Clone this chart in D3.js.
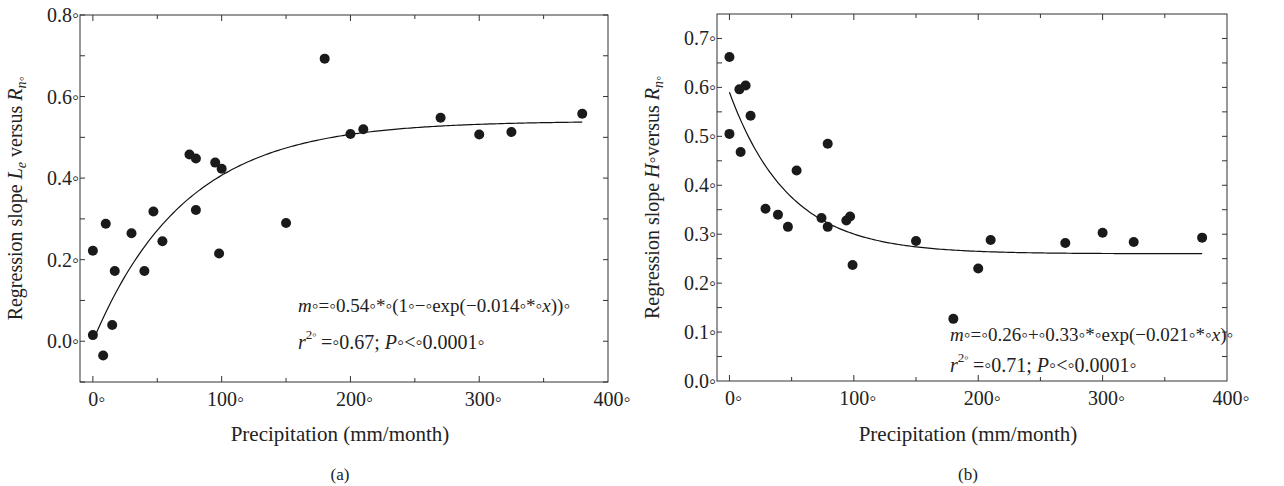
<!DOCTYPE html><html><head><meta charset="utf-8">
<script src="https://cdn.jsdelivr.net/npm/d3@7"></script>
<style>body{margin:0;background:#fff}text{font-family:"Liberation Serif",serif;fill:#222}</style></head><body>
<svg id="c" width="1284" height="486"></svg>
<script>
const aX=[0,0,8,10,15,17,30,40,47,54,75,80,80,95,98,100,150,180,200,210,270,300,325,380];
const aY=[0.015,0.222,-0.035,0.288,0.04,0.172,0.265,0.172,0.318,0.245,0.458,0.448,0.322,0.438,0.215,0.423,0.29,0.693,0.508,0.52,0.548,0.507,0.513,0.558];
const bX=[0,0,8,9,13,17,29,39,47,54,74,79,79,94,97,99,150,180,200,210,270,300,325,380];
const bY=[0.662,0.505,0.596,0.468,0.604,0.542,0.352,0.34,0.315,0.43,0.333,0.485,0.315,0.328,0.336,0.237,0.286,0.127,0.23,0.288,0.282,0.303,0.284,0.293];
const aFit=[0.54,0.014], bFit=[0.26,0.33,0.021];
const xTicks=[0,100,200,300,400];
const aTicks=[0,0.2,0.4,0.6,0.8], bTicks=[0,0.1,0.2,0.3,0.4,0.5,0.6,0.7];
const svg=d3.select("#c");
function panel(o){
  const x=d3.scaleLinear().domain([-10,400]).range([o.l,o.r]);
  const y=d3.scaleLinear().domain(o.yd).range([o.b,o.t]);
  const g=svg.append("g");
  g.append("rect").attr("x",o.l).attr("y",o.t).attr("width",o.r-o.l).attr("height",o.b-o.t).attr("fill","none").attr("stroke","#333");
  d3.range(0,400,50).forEach(v=>{const big=v%100===0;[o.b,o.t].forEach((yy,i)=>g.append("line").attr("x1",x(v)).attr("x2",x(v)).attr("y1",yy).attr("y2",yy+(i?1:-1)*(big?6:4)).attr("stroke","#333"));});
  o.minor.forEach(v=>{[o.l,o.r].forEach((xx,i)=>g.append("line").attr("y1",y(v)).attr("y2",y(v)).attr("x1",xx).attr("x2",xx+(i?-1:1)*5).attr("stroke","#333"));});
  xTicks.forEach(v=>g.append("text").attr("x",x(v)+4).attr("y",o.b+24).attr("text-anchor","middle").attr("font-size",20).text(v+"◦"));
  o.yt.forEach(v=>g.append("text").attr("x",o.l-1).attr("y",y(v)+7).attr("text-anchor","end").attr("font-size",20).text(o.fmt(v)+"◦"));
  const line=d3.line().x(d=>x(d[0])).y(d=>y(d[1]));
  g.append("path").attr("d",line(d3.range(o.c0,381,2).map(v=>[v,o.f(v)]))).attr("fill","none").attr("stroke","#111").attr("stroke-width",1.2);
  o.xs.forEach((v,i)=>g.append("circle").attr("cx",x(v)).attr("cy",y(o.ys[i])).attr("r",5).attr("fill","#1a1a1a"));
  g.append("text").attr("x",(o.l+o.r)/2-4).attr("y",441).attr("text-anchor","middle").attr("font-size",21).text("Precipitation (mm/month)");
  g.append("text").attr("x",(o.l+o.r)/2-4).attr("y",480).attr("text-anchor","middle").attr("font-size",17).text(o.lab);
  const yl=g.append("text").attr("transform",`translate(${o.l-58},${(o.t+o.b)/2}) rotate(-90)`).attr("text-anchor","middle").attr("font-size",20);
  yl.append("tspan").text("Regression slope ");
  o.ylab(yl);
  const e1=g.append("text").attr("x",o.ex).attr("y",o.ey).attr("font-size",19);
  e1.append("tspan").attr("font-style","italic").text("m");
  o.eq.forEach(s=>e1.append("tspan").attr("font-style",s==="x"?"italic":null).text(s));
  const e2=g.append("text").attr("x",o.ex).attr("y",o.ey2).attr("font-size",20);
  e2.append("tspan").attr("font-style","italic").text("r");
  e2.append("tspan").attr("font-size",13).attr("dy",-10).text("2◦");
  e2.append("tspan").attr("dy",10).text("\u2009=◦"+o.r2+"; ");
  e2.append("tspan").attr("font-style","italic").text("P");
  e2.append("tspan").text("◦<◦0.0001◦");
}
panel({l:80,r:608,t:15,b:382,yd:[-0.1,0.8],yt:aTicks,minor:d3.range(-0.1,0.81,0.1).map(v=>+v.toFixed(2)),fmt:d3.format(".1f"),
  xs:aX,ys:aY,f:v=>aFit[0]*(1-Math.exp(-aFit[1]*v)),c0:2,lab:"(a)",ex:298,ey:312,ey2:349,eq:["◦=◦0.54◦*◦(1◦−◦exp(−0.014◦*◦","x","))◦"],r2:"0.67",
  ylab:t=>{t.append("tspan").attr("font-style","italic").text("L");t.append("tspan").attr("font-size",14).attr("dy",4).attr("font-style","italic").text("e");t.append("tspan").attr("dy",-4).text(" versus ");t.append("tspan").attr("font-style","italic").text("R");t.append("tspan").attr("font-size",14).attr("dy",4).attr("font-style","italic").text("n◦");}});
panel({l:717,r:1227,t:14,b:381,yd:[0,0.75],yt:bTicks,minor:d3.range(0.05,0.75,0.05).map(v=>+v.toFixed(2)),fmt:d3.format(".1f"),
  xs:bX,ys:bY,f:v=>bFit[0]+bFit[1]*Math.exp(-bFit[2]*v),c0:0,lab:"(b)",ex:950,ey:341,ey2:372,eq:["◦=◦0.26◦+◦0.33◦*◦exp(−0.021◦*◦","x",")◦"],r2:"0.71",
  ylab:t=>{t.append("tspan").attr("font-style","italic").text("H");t.append("tspan").text("◦versus ");t.append("tspan").attr("font-style","italic").text("R");t.append("tspan").attr("font-size",14).attr("dy",4).attr("font-style","italic").text("n◦");}});
</script></body></html>
